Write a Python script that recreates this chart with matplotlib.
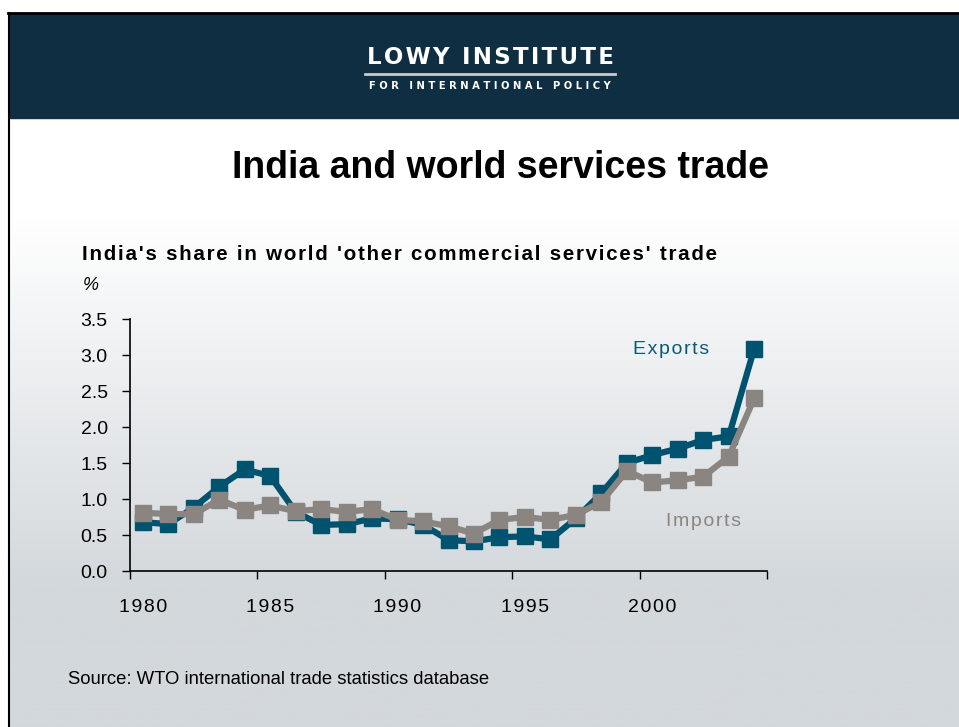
import matplotlib.pyplot as plt
import numpy as np
from matplotlib.colors import LinearSegmentedColormap
from matplotlib.ticker import FixedLocator, FixedFormatter

plt.rcParams['font.family'] = ['Liberation Sans', 'DejaVu Sans']

years = list(range(1980, 2005))
exports = [0.68, 0.65, 0.88, 1.17, 1.41, 1.32, 0.82, 0.64, 0.65, 0.73, 0.72, 0.64, 0.43,
           0.41, 0.47, 0.48, 0.44, 0.73, 1.08, 1.50, 1.61, 1.70, 1.82, 1.87, 3.09]
imports = [0.81, 0.79, 0.79, 0.99, 0.85, 0.91, 0.83, 0.86, 0.82, 0.86, 0.71, 0.69, 0.62,
           0.52, 0.71, 0.75, 0.71, 0.78, 0.96, 1.39, 1.23, 1.26, 1.31, 1.59, 2.40]
tick_years = [1980, 1985, 1990, 1995, 2000]


def spaced(s, sep="\u200a"):
    # loose letter spacing like the original slide
    return sep.join(s)


W, H = 959, 727
fig = plt.figure(figsize=(W / 100, H / 100), dpi=100)
fig.patch.set_facecolor("white")

# background: banner + gradient
bg = fig.add_axes([0, 0, 1, 1])
bg.set_xlim(0, W)
bg.set_ylim(H, 0)
bg.axis("off")
yy = np.arange(H)
grad = np.repeat(np.clip((yy - 118) / (560 - 118), 0, 1)[:, None], 2, axis=1)
cmap = LinearSegmentedColormap.from_list("bg", ["#ffffff", "#d3d8dc"])
bg.imshow(grad, cmap=cmap, extent=[9, W, H, 118], aspect="auto", zorder=0)
bg.add_patch(plt.Rectangle((9, 13), W - 9, 105, color="#0f2e41", zorder=1))
bg.plot([8.5, 8.5], [13, H], color="black", lw=1.5, zorder=2)
bg.plot([8, W], [13, 13], color="black", lw=2, zorder=2)
bg.plot([365, 615], [74, 74], color="#c8ccd0", lw=2, zorder=2)
bg.text(490, 58, spaced("LOWY INSTITUTE"), color="white", fontsize=16.5,
        fontweight="bold", ha="center", va="center", family=["DejaVu Sans"], zorder=3)
bg.text(490, 86, "F O R   I N T E R N A T I O N A L   P O L I C Y", color="white",
        fontsize=7.2, fontweight="bold", ha="center", va="center", family=["DejaVu Sans"], zorder=3)
bg.text(500, 168, "India and world services trade", fontsize=27, fontweight="bold",
        ha="center", va="center", zorder=3)
bg.text(82, 254, spaced("India's share in world 'other commercial services' trade"), fontsize=14.8,
        fontweight="bold", ha="left", va="center", zorder=3)
bg.text(83, 285, "%", fontsize=13, style="italic", ha="left", va="center", zorder=3)
bg.text(68, 679, "Source: WTO international trade statistics database", fontsize=13.3,
        ha="left", va="center", zorder=3)

ax = fig.add_axes([130 / W, (H - 571) / H, 637 / W, (571 - 319) / H])
ax.patch.set_alpha(0)
x = np.arange(len(years))
ax.plot(x, imports, color="#8a8580", lw=4.5, marker="s", markersize=11.5, zorder=3)
ax.plot(x, exports, color="#00536f", lw=4.5, marker="s", markersize=11.5, zorder=2)

yt = np.arange(0, 3.51, 0.5)
ax.set_xlim(-0.5, len(years) - 0.5)
ax.set_ylim(0, 3.5)
ax.set_yticks(yt)
ax.set_yticklabels(["%.1f" % v for v in yt])
ax.xaxis.set_major_locator(FixedLocator(np.arange(-0.5, len(years), 5)))
ax.xaxis.set_major_formatter(FixedFormatter([""] * 6))
ax.xaxis.set_minor_locator(FixedLocator([years.index(t) for t in tick_years]))
ax.xaxis.set_minor_formatter(FixedFormatter([spaced(str(t)) for t in tick_years]))
ax.tick_params(axis="x", which="major", direction="out", length=6, width=1)
ax.tick_params(axis="x", which="minor", length=0, pad=20, labelsize=14)
ax.tick_params(axis="y", direction="out", length=6, width=1, pad=10, labelsize=14)
for s in ["top", "right"]:
    ax.spines[s].set_visible(False)
for s in ["left", "bottom"]:
    ax.spines[s].set_linewidth(1.2)

ax.text(20.75, 3.07, spaced("Exports"), color="#0b5a74", fontsize=14, ha="center", va="center")
ax.text(22.0, 0.69, spaced("Imports"), color="#8a8580", fontsize=14, ha="center", va="center")

fig.savefig("out.png", dpi=100)
